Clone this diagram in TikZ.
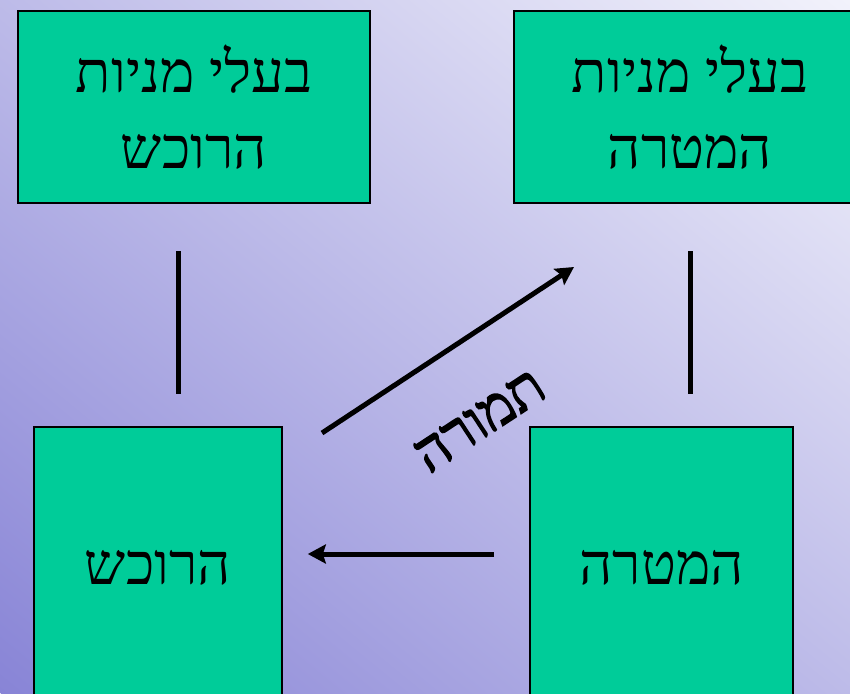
\documentclass[tikz,border=0pt]{standalone}
\usepackage{fontspec}
\newfontfamily\hebfont[Script=Hebrew]{Liberation Serif}
\newfontfamily\hebbold[Script=Hebrew, FakeBold=2.5]{Liberation Serif}
\TeXXeTstate=1
\usetikzlibrary{arrows.meta}
\definecolor{firmgreen}{RGB}{0,204,153}
\definecolor{bglight}{RGB}{242,242,251}
\definecolor{bgmid}{RGB}{206,206,237}
\definecolor{bgdark}{RGB}{136,132,214}
\tikzset{
  firm/.style ={rectangle, draw=black, line width=1.6pt, fill=firmgreen, align=center,
                inner sep=0pt, font=\hebfont\fontsize{58}{76}\selectfont},
  link/.style ={line width=5pt},
  flow/.style ={-{Stealth[length=18pt,width=19pt,inset=3pt]}, line width=5pt},
  lbl/.style  ={font=\hebbold\fontsize{57}{60}\selectfont, inner sep=0pt}
}

\begin{document}
\begin{tikzpicture}[x=1pt, y=-1pt]
\path[use as bounding box] (0,0) rectangle (850,693);
\clip (0,0) rectangle (850,693);
\begin{scope}[transform canvas={rotate around={-39.2:(425,346.5)}}]
\shade[bottom color=bgdark, middle color=bgmid, top color=bglight]
  (-300,883.5) rectangle (1150,-190.5);
\end{scope}
% shareholders on top, firms below
\node[firm, minimum width=352pt, minimum height=192pt] (acqholders) at (194,107)
  {\beginR בעלי מניות\endR\\\beginR הרוכש\endR};
\node[firm, minimum width=352pt, minimum height=192pt] (tgtholders) at (690,107)
  {\beginR בעלי מניות\endR\\\beginR המטרה\endR};
\node[firm, minimum width=248pt, minimum height=282pt] (acquirer) at (158,568)
  {\beginR הרוכש\endR};
\node[firm, minimum width=263pt, minimum height=282pt] (target) at (661.5,568)
  {\beginR המטרה\endR};
\coordinate (acqtop) at (178,251);
\coordinate (acqbot) at (178,394);
\coordinate (tgttop) at (690,251);
\coordinate (tgtbot) at (690,394);
\coordinate (payfrom) at (322,433);
\coordinate (payto) at (574,267);
\draw[link] (acqtop) -- (acqbot);
\draw[link] (tgttop) -- (tgtbot);
\draw[flow] (payfrom) -- (payto);
\draw[flow] ([xshift=-35pt]target.west |- 0,554) -- ([xshift=25pt]acquirer.east |- 0,554);
\node[lbl, rotate=33.3] (consid) at (480,421) {\beginR תמורה\endR};
\end{tikzpicture}
\end{document}
